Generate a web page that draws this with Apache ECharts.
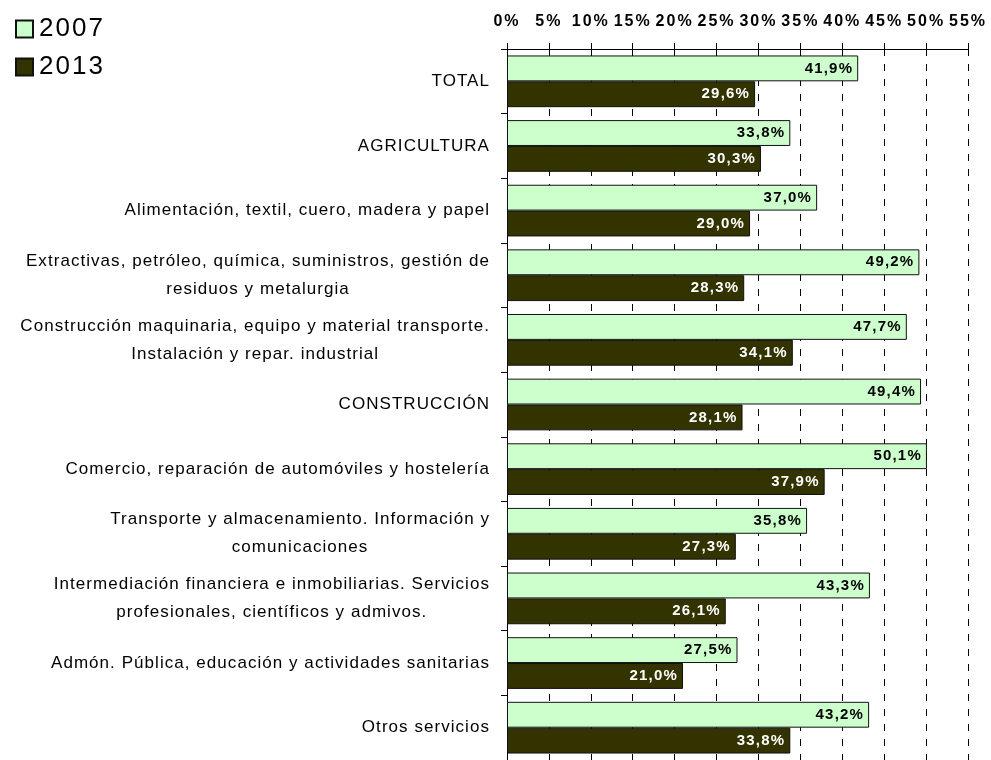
<!DOCTYPE html>
<html>
<head>
<meta charset="utf-8">
<script src="https://cdn.jsdelivr.net/npm/echarts@6/dist/echarts.min.js"></script>
<style>
  html, body { margin: 0; padding: 0; background: #fff; }
  #chart { width: 991px; height: 760px; }
</style>
</head>
<body>
<div id="chart"></div>
<script>
// ---- data ----
const categories = [
  'TOTAL',
  'AGRICULTURA',
  'Alimentación, textil, cuero, madera y papel',
  'Extractivas, petróleo, química, suministros, gestión de\nresiduos y metalurgia',
  'Construcción maquinaria, equipo y material transporte.\nInstalación y repar. industrial',
  'CONSTRUCCIÓN',
  'Comercio, reparación de automóviles y hostelería',
  'Transporte y almacenamiento. Información y\ncomunicaciones',
  'Intermediación financiera e inmobiliarias. Servicios\nprofesionales, científicos y admivos.',
  'Admón. Pública, educación y actividades sanitarias',
  'Otros servicios'
];
const seriesNames = ['2007', '2013'];
const values2007 = [41.9, 33.8, 37.0, 49.2, 47.7, 49.4, 50.1, 35.8, 43.3, 27.5, 43.2];
const values2013 = [29.6, 30.3, 29.0, 28.3, 34.1, 28.1, 37.9, 27.3, 26.1, 21.0, 33.8];
const axisMin = 0, axisMax = 55, axisStep = 5;

// letter spacing to mimic the widened glyph spacing of the original
(function () {
  const P = CanvasRenderingContext2D.prototype;
  function spacingFor(f) {
    f = f || '';
    const m = /(\d+(?:\.\d+)?)px/.exec(f);
    const size = m ? parseFloat(m[1]) : 12;
    const bold = /bold|[6-9]00/.test(f);
    if (size >= 24) return 2;
    if (bold && size >= 16) return 2;
    if (bold) return 1.2;
    if (size >= 17) return 1.05;
    return 0;
  }
  const origFill = P.fillText;
  P.fillText = function (t, x, y, mw) {
    try { this.letterSpacing = spacingFor(this.font) + 'px'; } catch (e) {}
    return mw === undefined ? origFill.call(this, t, x, y) : origFill.call(this, t, x, y, mw);
  };
  const origMeasure = P.measureText;
  P.measureText = function (t) {
    try { this.letterSpacing = spacingFor(this.font) + 'px'; } catch (e) {}
    return origMeasure.call(this, t);
  };
})();

const FONT = '"Liberation Sans", Arial, sans-serif';
const fmtPct = v => v.toFixed(1).replace('.', ',') + '%';

const chart = echarts.init(document.getElementById('chart'), null, { renderer: 'canvas' });
chart.setOption({
  backgroundColor: '#ffffff',
  animation: false,
  legend: {
    orient: 'vertical',
    left: 10,
    top: 10,
    itemWidth: 17,
    itemHeight: 17,
    itemGap: 10,
    icon: 'rect',
    textStyle: { fontSize: 26, fontFamily: FONT, color: '#000', padding: [0, 0, 0, 1] },
    data: seriesNames
  },
  grid: { left: 507, top: 49, width: 461, height: 713, containLabel: false },
  xAxis: {
    type: 'value',
    position: 'top',
    min: axisMin,
    max: axisMax,
    interval: axisStep,
    axisLine: { show: true, lineStyle: { color: '#000', width: 1 } },
    axisTick: { show: true, inside: false, length: 6, lineStyle: { color: '#000' } },
    axisLabel: {
      formatter: '{value}%',
      fontSize: 16,
      fontWeight: 'bold',
      fontFamily: FONT,
      color: '#000',
      margin: 18
    },
    splitLine: { show: true, lineStyle: { color: '#000', width: 1, type: [7, 8] } }
  },
  yAxis: {
    type: 'category',
    inverse: true,
    data: categories,
    axisLine: { show: true, lineStyle: { color: '#000', width: 1 } },
    axisTick: { show: true, length: 6, lineStyle: { color: '#000' } },
    axisLabel: {
      margin: 17,
      color: '#000',
      fontSize: 17,
      fontFamily: FONT,
      formatter: v => v.split('\n').map(s => '{c|' + s + '}').join('\n'),
      rich: {
        c: { align: 'center', fontSize: 17, fontFamily: FONT, color: '#000', lineHeight: 28 }
      }
    }
  },
  series: [
    {
      name: seriesNames[0],
      type: 'bar',
      data: values2007,
      barGap: '0%',
      barCategoryGap: '20%',
      itemStyle: { color: '#CCFFCC', borderColor: '#111', borderWidth: 1 },
      label: {
        show: true,
        position: 'insideRight',
        distance: 5,
        formatter: p => fmtPct(p.value),
        fontSize: 15,
        fontWeight: 'bold',
        fontFamily: FONT,
        color: '#000',
        textBorderWidth: 0
      }
    },
    {
      name: seriesNames[1],
      type: 'bar',
      data: values2013,
      barGap: '0%',
      barCategoryGap: '20%',
      itemStyle: { color: '#333300', borderColor: '#111', borderWidth: 1 },
      label: {
        show: true,
        position: 'insideRight',
        distance: 5,
        formatter: p => fmtPct(p.value),
        fontSize: 15,
        fontWeight: 'bold',
        fontFamily: FONT,
        color: '#fff',
        textBorderWidth: 0
      }
    }
  ]
});
</script>
</body>
</html>
